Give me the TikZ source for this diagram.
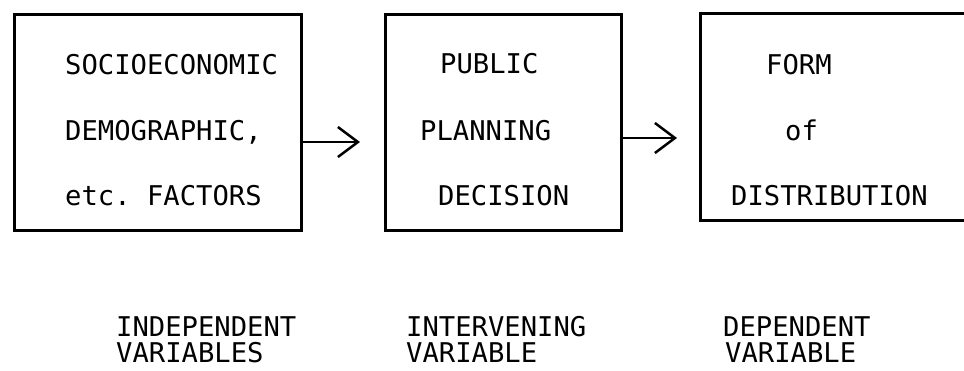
\documentclass[tikz,border=0pt]{standalone}
\usepackage{fontspec}
\setmonofont{DejaVu Sans Mono}
\usetikzlibrary{arrows.meta}
\begin{document}
\begin{tikzpicture}[x=1pt,y=-1pt,
  box/.style={draw, line width=3pt, inner sep=0pt},
  lbl/.style={anchor=base west, inner sep=0pt, font=\ttfamily\fontsize{27.2}{27.2}\selectfont},
  rolelbl/.style={lbl, text height=20pt, text depth=0pt},
  arr/.style={line width=2.5pt, -{Straight Barb[length=20pt,width=30pt,line width=2.5pt]}}]
\useasboundingbox[fill=white] (0,0) rectangle (964,370);
\begin{scope}
\clip (0,0) rectangle (964,370);
% the three stages
\node[box, minimum width=287pt, minimum height=216pt] (b1) at (157.5,122) {};
\node[box, minimum width=236pt, minimum height=216pt] (b2) at (503,122) {};
\node[box, minimum width=300pt, minimum height=207pt] (b3) at (850,116.5) {};
% free ends of the arrows
\coordinate (a1) at (360,142);
\coordinate (a2) at (677,138);
\draw[arr] (b1.east |- a1) -- (a1);
\draw[arr] (b2.east |- a2) -- (a2);
\end{scope}
% box texts
\node[lbl] (t11) at (65,74) {SOCIOECONOMIC};
\node[lbl] (t12) at (65,140) {DEMOGRAPHIC,};
\node[lbl] (t13) at (65,205) {etc. FACTORS};
\node[lbl] (t21) at (440,73) {PUBLIC};
\node[lbl] (t22) at (420,140) {PLANNING};
\node[lbl] (t23) at (438,205) {DECISION};
\node[lbl] (t31) at (766,74) {FORM};
\node[lbl] (t32) at (785,140) {of};
\node[lbl] (t33) at (731,205) {DISTRIBUTION};
% variable roles
\node[rolelbl] (c11) at (116,336) {INDEPENDENT};
\node[rolelbl] (c12) at (116,362) {VARIABLES};
\node[rolelbl] (c21) at (406,336) {INTERVENING};
\node[rolelbl] (c22) at (406,362) {VARIABLE};
\node[rolelbl] (c31) at (723,336) {DEPENDENT};
\node[rolelbl] (c32) at (725,362) {VARIABLE};
\end{tikzpicture}
\end{document}
